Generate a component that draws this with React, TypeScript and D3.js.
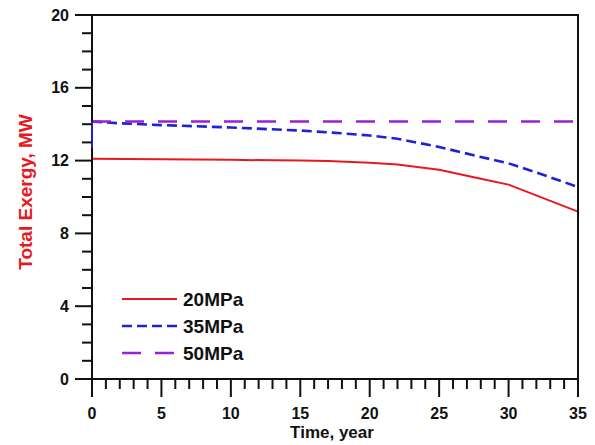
import React from "react";
import * as d3 from "d3";

const years20 = [0, 5, 10, 15, 17, 20, 22, 25, 28, 30, 35];
const values20 = [12.1, 12.07, 12.04, 12.0, 11.98, 11.88, 11.78, 11.5, 11.0, 10.68, 9.2];

const years35 = [0, 0, 2, 5, 10, 15, 18, 20, 22, 25, 28, 30, 32, 35];
const values35 = [12.7, 14.15, 14.05, 13.95, 13.82, 13.65, 13.5, 13.38, 13.2, 12.75, 12.2, 11.85, 11.35, 10.55];

const years50 = [0, 35];
const values50 = [14.15, 14.15];

const seriesNames = ["20MPa", "35MPa", "50MPa"];
const seriesColors = ["#e8191e", "#1c22d6", "#9a1fd8"];
const seriesDash = ["none", "10,5", "19,14"];
const seriesWidth = [2, 2.6, 2.6];

const xMajorTicks = [0, 5, 10, 15, 20, 25, 30, 35];
const yMajorTicks = [0, 4, 8, 12, 16, 20];

const W = 595;
const H = 445;
const L = 92, R = 578, T = 15, B = 379;

export default function App() {
  const x = d3.scaleLinear().domain([0, 35]).range([L, R]);
  const y = d3.scaleLinear().domain([0, 20]).range([B, T]);
  const xMinor = d3.range(0, 36, 1);
  const yMinor = d3.range(0, 21, 1);
  const line = d3
    .line<[number, number]>()
    .x((d) => x(d[0]))
    .y((d) => y(d[1]));
  const series: [number, number][][] = [
    years20.map((t, i) => [t, values20[i]]),
    years35.map((t, i) => [t, values35[i]]),
    years50.map((t, i) => [t, values50[i]]),
  ];
  const font = "'Liberation Sans', Arial, Helvetica, sans-serif";
  const legendY = [299, 326, 353];

  return (
    <svg
      width={W}
      height={H}
      style={{ position: "absolute", left: 0, top: 0, background: "#fff" }}
      fontFamily={font}
    >
      <rect x={0} y={0} width={W} height={H} fill="#fff" />
      {/* series */}
      {series.map((s, i) => (
        <path
          key={i}
          d={line(i === 1 ? s.slice(1) : s) || ""}
          fill="none"
          stroke={seriesColors[i]}
          strokeWidth={seriesWidth[i]}
          strokeDasharray={seriesDash[i]}
        />
      ))}
      {/* frame */}
      <rect x={L} y={T} width={R - L} height={B - T} fill="none" stroke="#111" strokeWidth={2} />
      {/* initial jump of the 35MPa series, drawn solid over the axis */}
      <path
        d={line(series[1].slice(0, 2)) || ""}
        fill="none"
        stroke={seriesColors[1]}
        strokeWidth={2}
      />
      {/* y ticks */}
      {yMinor.map((v) => {
        const major = v % 4 === 0;
        return (
          <line
            key={"y" + v}
            x1={L - (major ? 17 : 10)}
            x2={L}
            y1={y(v)}
            y2={y(v)}
            stroke="#111"
            strokeWidth={2}
          />
        );
      })}
      {yMajorTicks.map((v) => (
        <text
          key={"yl" + v}
          x={69}
          y={y(v)}
          textAnchor="end"
          dominantBaseline="central"
          fontSize={16}
          fontWeight="bold"
          fill="#111"
        >
          {v}
        </text>
      ))}
      {/* x ticks */}
      {xMinor.map((v) => {
        const major = v % 5 === 0;
        return (
          <line
            key={"x" + v}
            x1={x(v)}
            x2={x(v)}
            y1={B}
            y2={B + (major ? 18 : 10)}
            stroke="#111"
            strokeWidth={2}
          />
        );
      })}
      {xMajorTicks.map((v) => (
        <text
          key={"xl" + v}
          x={x(v)}
          y={419}
          textAnchor="middle"
          fontSize={16}
          fontWeight="bold"
          fill="#111"
        >
          {v}
        </text>
      ))}
      <text
        x={332}
        y={438}
        textAnchor="middle"
        fontSize={17}
        fontWeight="bold"
        fill="#111"
      >
        Time, year
      </text>
      <text
        transform={`translate(32, 192) rotate(-90)`}
        textAnchor="middle"
        fontSize={19}
        fontWeight="bold"
        fill="#e8191e"
      >
        Total Exergy, MW
      </text>
      {/* legend */}
      {seriesNames.map((n, i) => (
        <g key={"lg" + i}>
          <line
            x1={122}
            x2={177}
            y1={legendY[i]}
            y2={legendY[i]}
            stroke={seriesColors[i]}
            strokeWidth={seriesWidth[i]}
            strokeDasharray={seriesDash[i]}
          />
          <text
            x={183}
            y={legendY[i]}
            dominantBaseline="central"
            fontSize={19}
            fontWeight="bold"
            fill="#111"
          >
            {n}
          </text>
        </g>
      ))}
    </svg>
  );
}
